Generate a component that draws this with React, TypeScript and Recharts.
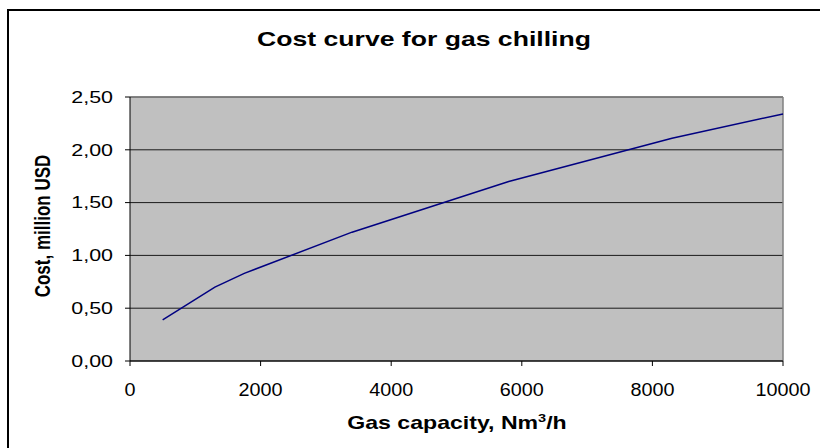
import React from "react";
import {
  LineChart,
  Line,
  XAxis,
  YAxis,
  CartesianGrid,
  ReferenceLine,
} from "recharts";

// Gas capacity (Nm3/h) and cost (million USD) along the curve
const capacity = [500, 1300, 1750, 3400, 5800, 8300, 10000];
const cost = [0.39, 0.7, 0.83, 1.22, 1.7, 2.11, 2.34];

const xTicks = [0, 2000, 4000, 6000, 8000, 10000];
const yTicks = [0, 0.5, 1.0, 1.5, 2.0, 2.5];

const titleText = "Cost curve for gas chilling";
const xLabelText = "Gas capacity, Nm";
const yLabelText = "Cost, million USD";

const data = capacity.map((c, i) => ({ capacity: c, cost: cost[i] }));

const W = 820;
const H = 448;
const FONT = "'Liberation Sans', Arial, sans-serif";

const formatY = (v: number) => v.toFixed(2).replace(".", ",");

const XTick = (props: any) => {
  const { x, y, payload } = props;
  return (
    <g transform={`translate(${x},${y}) scale(1.1,1)`}>
      <text
        x={0}
        y={0}
        dy="0.71em"
        textAnchor="middle"
        fontFamily={FONT}
        fontSize={18}
        fill="#000"
      >
        {payload.value}
      </text>
    </g>
  );
};

const YTick = (props: any) => {
  const { x, y, payload } = props;
  return (
    <g transform={`translate(${x},${y}) scale(1.3,1)`}>
      <text
        x={0}
        y={0}
        dy="0.355em"
        textAnchor="end"
        fontFamily={FONT}
        fontSize={16.5}
        fill="#000"
      >
        {formatY(payload.value)}
      </text>
    </g>
  );
};

export default function App() {
  return (
    <div
      style={{
        position: "absolute",
        left: 0,
        top: 0,
        width: W,
        height: H,
        background: "#fff",
        overflow: "hidden",
      }}
    >
      <div
        style={{
          position: "absolute",
          left: 7,
          top: 9,
          width: W,
          height: H,
          borderTop: "2px solid #000",
          borderLeft: "2px solid #000",
          boxSizing: "border-box",
        }}
      />
      <div style={{ position: "absolute", left: 0, top: 0 }}>
        <LineChart
          width={W}
          height={H}
          data={data}
          margin={{ top: 97, right: 37, bottom: 0, left: 0 }}
        >
          <CartesianGrid
            horizontal={true}
            vertical={false}
            stroke="#1a1a1a"
            fill="#C0C0C0"
            fillOpacity={1}
          />
          <XAxis
            dataKey="capacity"
            type="number"
            domain={[0, 10000]}
            ticks={xTicks}
            height={87}
            tickSize={5}
            tickMargin={17}
            axisLine={{ stroke: "#000" }}
            tickLine={{ stroke: "#000" }}
            tick={<XTick />}
            interval={0}
          />
          <YAxis
            type="number"
            domain={[0, 2.5]}
            ticks={yTicks}
            width={130}
            tickSize={5}
            tickMargin={12}
            axisLine={{ stroke: "#000" }}
            tickLine={{ stroke: "#000" }}
            tick={<YTick />}
            interval={0}
          />
          <ReferenceLine y={2.5} stroke="#808080" strokeWidth={1.5} />
          <ReferenceLine x={10000} stroke="#808080" strokeWidth={1.5} />
          <Line
            type="linear"
            dataKey="cost"
            stroke="#000080"
            strokeWidth={1.5}
            dot={false}
            isAnimationActive={false}
          />
        </LineChart>
      </div>
      <svg
        width={W}
        height={H}
        style={{ position: "absolute", left: 0, top: 0, pointerEvents: "none" }}
      >
        <g transform="translate(424,46) scale(1.33,1)">
          <text
            x={0}
            y={0}
            textAnchor="middle"
            fontFamily={FONT}
            fontWeight="bold"
            fontSize={20}
            fill="#000"
          >
            {titleText}
          </text>
        </g>
        <g transform="translate(457,429) scale(1.32,1)">
          <text
            x={0}
            y={0}
            textAnchor="middle"
            fontFamily={FONT}
            fontWeight="bold"
            fontSize={17.5}
            fill="#000"
          >
            {xLabelText}
            <tspan dy={-7} fontSize={11}>
              3
            </tspan>
            <tspan dy={7}>/h</tspan>
          </text>
        </g>
        <g transform="translate(50,226) scale(1.25,1) rotate(-90)">
          <text
            x={0}
            y={0}
            textAnchor="middle"
            fontFamily={FONT}
            fontWeight="bold"
            fontSize={17}
            fill="#000"
          >
            {yLabelText}
          </text>
        </g>
      </svg>
    </div>
  );
}
